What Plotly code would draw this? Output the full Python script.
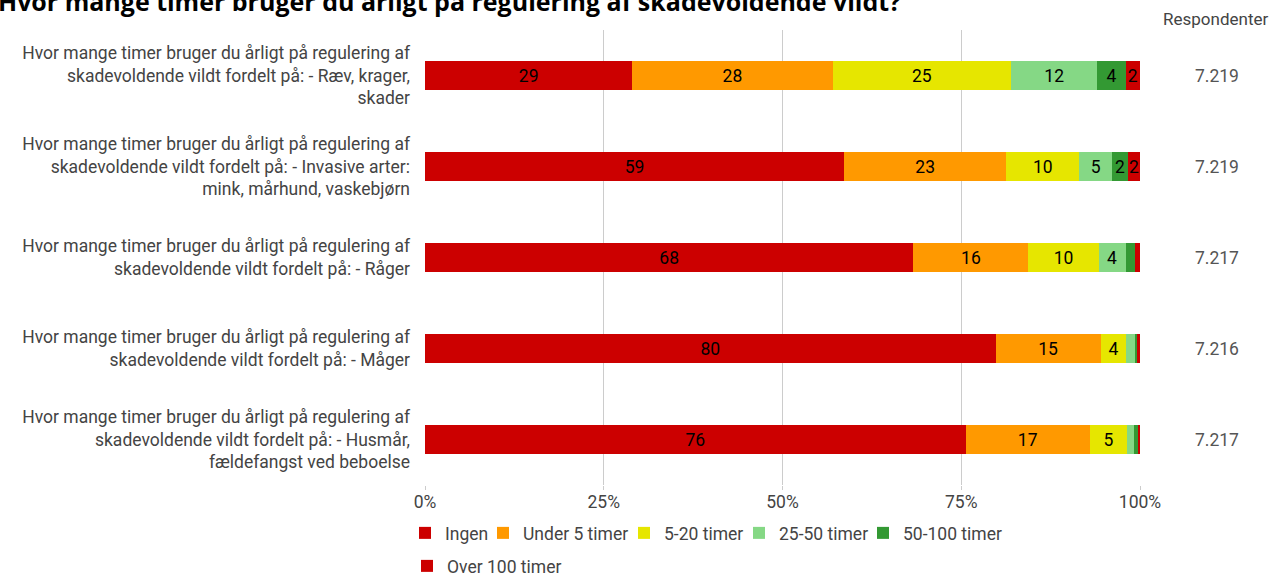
import plotly.graph_objects as go

categories = [
    "Hvor mange timer bruger du årligt på regulering af<br>skadevoldende vildt fordelt på: - Ræv, krager,<br>skader",
    "Hvor mange timer bruger du årligt på regulering af<br>skadevoldende vildt fordelt på: - Invasive arter:<br>mink, mårhund, vaskebjørn",
    "Hvor mange timer bruger du årligt på regulering af<br>skadevoldende vildt fordelt på: - Råger",
    "Hvor mange timer bruger du årligt på regulering af<br>skadevoldende vildt fordelt på: - Måger",
    "Hvor mange timer bruger du årligt på regulering af<br>skadevoldende vildt fordelt på: - Husmår,<br>fældefangst ved beboelse",
]
series_names = ["Ingen", "Under 5 timer", "5-20 timer", "25-50 timer", "50-100 timer", "Over 100 timer"]
ingen = [29.0, 58.6, 68.3, 79.8, 75.6]
under5 = [28.0, 22.7, 16.1, 14.7, 17.4]
t5_20 = [25.0, 10.2, 9.8, 3.6, 5.2]
t25_50 = [12.0, 4.6, 3.8, 1.3, 1.0]
t50_100 = [4.0, 2.2, 1.3, 0.2, 0.5]
over100 = [2.0, 1.7, 0.7, 0.4, 0.3]
respondents = [7219, 7219, 7217, 7216, 7217]
tick_vals = [0, 25, 50, 75, 100]
tick_text = ["0%", "25%", "50%", "75%", "100%"]
colors = ["#CC0000", "#FF9900", "#E6E600", "#85D885", "#339933", "#CC0000"]

# legend entry placement (pixel x of label text, legend row)
legend_text_x = [445, 523, 664, 779, 903, 447]
legend_row = [0, 0, 0, 0, 0, 1]

values = [ingen, under5, t5_20, t25_50, t50_100, over100]
font = "Roboto"
fs = 17.5
plot_l, plot_w, plot_b, plot_h = 425, 715, 485, 455
row_top_px = [515, 548]

fig = go.Figure()
legend_layout = {}
for i, (name, vals, col) in enumerate(zip(series_names, values, colors)):
    texts = [str(int(v + 0.5)) if v >= 1.5 else "" for v in vals]
    lname = "legend" if i == 0 else f"legend{i + 1}"
    fig.add_trace(go.Bar(
        y=categories, x=vals, name=name, orientation="h",
        marker=dict(color=col, line=dict(width=0)),
        text=texts, textposition="inside", insidetextanchor="middle",
        textangle=0, textfont=dict(family=font, size=fs, color="#000"),
        legend=lname, showlegend=True,
        hoverinfo="skip",
    ))
    legend_layout[lname] = dict(
        orientation="h",
        x=(legend_text_x[i] - 40 - plot_l) / plot_w, xanchor="left",
        y=-(row_top_px[legend_row[i]] - plot_b) / plot_h, yanchor="top",
        font=dict(family=font, size=fs, color="#444"),
        itemwidth=30, bgcolor="rgba(0,0,0,0)", visible=True,
    )

fig.update_layout(
    showlegend=True,
    barmode="stack",
    bargap=0.69,
    width=1272, height=575,
    margin=dict(l=425, r=132, t=30, b=90, autoexpand=False),
    paper_bgcolor="white", plot_bgcolor="white",
    uniformtext=dict(minsize=fs, mode="show"),
    font=dict(family=font, size=fs, color="#444"),
    xaxis=dict(
        range=[0, 100], tickmode="array", tickvals=tick_vals, ticktext=tick_text,
        showgrid=True, gridcolor="#cccccc", gridwidth=1, zeroline=False,
        ticks="outside", ticklen=4, tickcolor="#cccccc",
        ticklabelstandoff=-3,
        tickfont=dict(family=font, size=fs, color="#444"),
        automargin=False,
    ),
    yaxis=dict(
        autorange="reversed", showgrid=False, zeroline=False,
        ticklabelstandoff=14, automargin=False,
        tickfont=dict(family=font, size=fs, color="#444"),
    ),
    **legend_layout,
)

fig.add_annotation(
    x=-0.6, y=1.0225, xref="paper", yref="paper",
    text="<b>Hvor mange timer bruger du årligt på regulering af skadevoldende vildt?</b>",
    showarrow=False, xanchor="left", yanchor="bottom",
    font=dict(family="Open Sans", size=25, color="#000"),
)
fig.add_annotation(
    x=1.106, y=1.024, xref="paper", yref="paper", text="Respondenter",
    showarrow=False, xanchor="center", yanchor="middle",
    font=dict(family=font, size=17, color="#444"),
)
for cat, r in zip(categories, respondents):
    fig.add_annotation(
        x=1.108, y=cat, xref="paper", yref="y",
        text=f"{r:,}".replace(",", "."), showarrow=False,
        xanchor="center", yanchor="middle",
        font=dict(family=font, size=fs, color="#555"),
    )

fig.write_html("out.html", config={"displayModeBar": False},
               post_script="document.body.style.margin='0';")
